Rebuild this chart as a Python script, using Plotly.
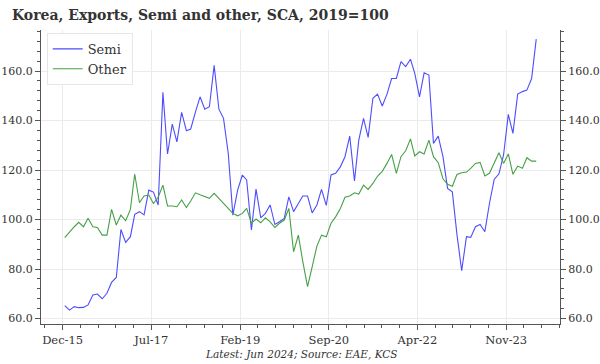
import pandas as pd
import plotly.graph_objects as go

dates = pd.date_range("2015-12-01", periods=102, freq="MS") + pd.Timedelta(days=14)

semi = [65.2, 63.4, 64.8, 64.4, 64.5, 65.5, 69.5, 69.9, 68.0, 70.2,
        74.6, 76.6, 96.0, 90.8, 93.1, 102.1, 103.2, 101.9, 111.9, 111.1,
        105.9, 151.4, 126.5, 138.6, 131.4, 143.3, 135.9, 136.6, 143.4, 149.6,
        144.6, 145.6, 162.3, 144.6, 140.9, 126.7, 101.8, 111.9, 118.0, 116.0,
        95.8, 112.3, 100.7, 102.5, 105.9, 98.0, 99.1, 100.5, 109.2, 103.2,
        106.5, 109.5, 109.5, 102.7, 105.9, 112.2, 105.7, 118.0, 118.7, 121.3,
        125.4, 133.7, 115.6, 132.1, 140.9, 133.2, 149.0, 150.7, 145.9, 150.7,
        157.0, 157.0, 163.8, 161.8, 164.8, 159.1, 149.6, 159.3, 158.4, 130.8,
        133.7, 125.4, 112.6, 111.2, 94.0, 79.3, 93.1, 92.8, 97.1, 98.0,
        95.1, 106.5, 116.2, 118.5, 126.1, 142.5, 134.8, 150.7, 151.7, 152.3,
        157.0, 172.9]

other = [92.7, 95.1, 97.1, 98.9, 97.1, 100.5, 97.1, 96.8, 93.7, 93.7,
         104.1, 97.8, 101.8, 99.5, 104.1, 118.4, 106.8, 109.5, 109.9, 106.5,
         109.0, 113.9, 105.5, 105.5, 105.2, 107.9, 104.9, 107.5, 110.8, 110.0,
         109.3, 108.6, 110.6, 108.6, 106.5, 104.5, 102.5, 101.5, 102.5, 104.5,
         98.5, 100.2, 98.7, 100.7, 99.1, 96.8, 98.5, 99.8, 104.5, 87.0,
         93.7, 83.0, 72.9, 80.9, 89.3, 93.7, 93.0, 98.5, 101.1, 104.5,
         109.0, 109.5, 110.8, 110.3, 113.9, 112.2, 114.6, 117.5, 119.5, 122.7,
         126.3, 118.7, 125.4, 127.8, 132.6, 125.7, 127.4, 126.5, 132.1, 125.4,
         123.0, 116.5, 114.3, 113.5, 118.2, 118.9, 119.2, 120.7, 122.7, 123.1,
         117.6, 118.7, 122.7, 127.0, 122.7, 126.5, 118.3, 121.6, 120.7, 125.0,
         123.6, 123.6]

x_tick_vals = pd.date_range("2015-12-01", periods=6, freq="19MS")
x_tick_text = [d.strftime("%b-%y") for d in x_tick_vals]
y_tick_vals = [60, 80, 100, 120, 140, 160]
y_tick_text = ["60.0", "80.0", "100.0", "120.0", "140.0", "160.0"]

# minor x ticks: 5 subdivisions between majors
ext = list(x_tick_vals) + [x_tick_vals[-1] + (x_tick_vals[-1] - x_tick_vals[-2])]
ext = [x_tick_vals[0] - (x_tick_vals[1] - x_tick_vals[0])] + ext
minor_x = []
for a, b in zip(ext[:-1], ext[1:]):
    for k in range(1, 5):
        minor_x.append(a + (b - a) * k / 5)

FONT = "Georgia, 'DejaVu Serif', serif"
BLUE = "#4d4dff"
GREEN = "#46a046"
AXIS = "#555555"
GRID = "#ebebeb"
TXT = "#333333"

W, H = 600, 364

fig = go.Figure()
fig.add_trace(go.Scatter(x=dates, y=semi, name="Semi", mode="lines",
                         line=dict(color=BLUE, width=1.1)))
fig.add_trace(go.Scatter(x=dates, y=other, name="Other", mode="lines",
                         line=dict(color=GREEN, width=1.1)))
fig.add_trace(go.Scatter(x=dates, y=semi, yaxis="y2", mode="lines",
                         line=dict(color="rgba(0,0,0,0)", width=0),
                         showlegend=False, hoverinfo="skip"))

yr = [57.8, 176.6]
common_y = dict(range=yr, tickmode="array", tickvals=y_tick_vals, ticktext=y_tick_text,
                ticks="outside", ticklen=5, tickcolor=AXIS, showline=True,
                linecolor=AXIS, linewidth=1, zeroline=False, automargin=False,
                tickfont=dict(family=FONT, size=11, color=TXT),
                minor=dict(dtick=4, tick0=0, ticks="outside", ticklen=3,
                           tickcolor=AXIS, showgrid=False))

fig.update_layout(
    width=W, height=H,
    margin=dict(l=41, r=40, t=30, b=40),
    paper_bgcolor="white", plot_bgcolor="white",
    hovermode=False,
    font=dict(family=FONT, color=TXT),
    title=dict(text="<b>Korea, Exports, Semi and other, SCA, 2019=100</b>",
               x=12 / W, xref="container", xanchor="left",
               y=1 - 15 / H, yref="container", yanchor="middle",
               font=dict(family=FONT, size=14, color=TXT)),
    xaxis=dict(type="date", range=["2015-07-13", "2024-10-17"], automargin=False,
               tickmode="array", tickvals=list(x_tick_vals), ticktext=x_tick_text,
               ticks="outside", ticklen=5, tickcolor=AXIS,
               showline=True, linecolor=AXIS, linewidth=1,
               showgrid=True, gridcolor=GRID, gridwidth=1,
               tickfont=dict(family=FONT, size=11.5, color=TXT),
               minor=dict(tickmode="array", tickvals=minor_x, ticks="outside",
                          ticklen=3, tickcolor=AXIS, showgrid=False)),
    yaxis=dict(**common_y, side="left", showgrid=True, gridcolor=GRID, gridwidth=1),
    yaxis2=dict(**common_y, side="right", overlaying="y", showgrid=False),
    legend=dict(x=0.011, y=0.99, xanchor="left", yanchor="top",
                bgcolor="white", bordercolor="#e6e6e6", borderwidth=1,
                font=dict(family=FONT, size=13, color=TXT),
                tracegroupgap=0, itemwidth=30),
    annotations=[dict(text="<i>Latest: Jun 2024; Source: EAE, KCS</i>",
                      xref="paper", yref="paper", x=0.5, y=-0.102,
                      xanchor="center", yanchor="middle", showarrow=False,
                      font=dict(family=FONT, size=10.5, color=TXT))],
)

# remove the browser's default 8px page margin so the figure fills the window
fig.write_html("out.html",
               config={"displayModeBar": False, "staticPlot": True},
               post_script="document.body.style.margin='0';document.body.style.overflow='hidden';")
